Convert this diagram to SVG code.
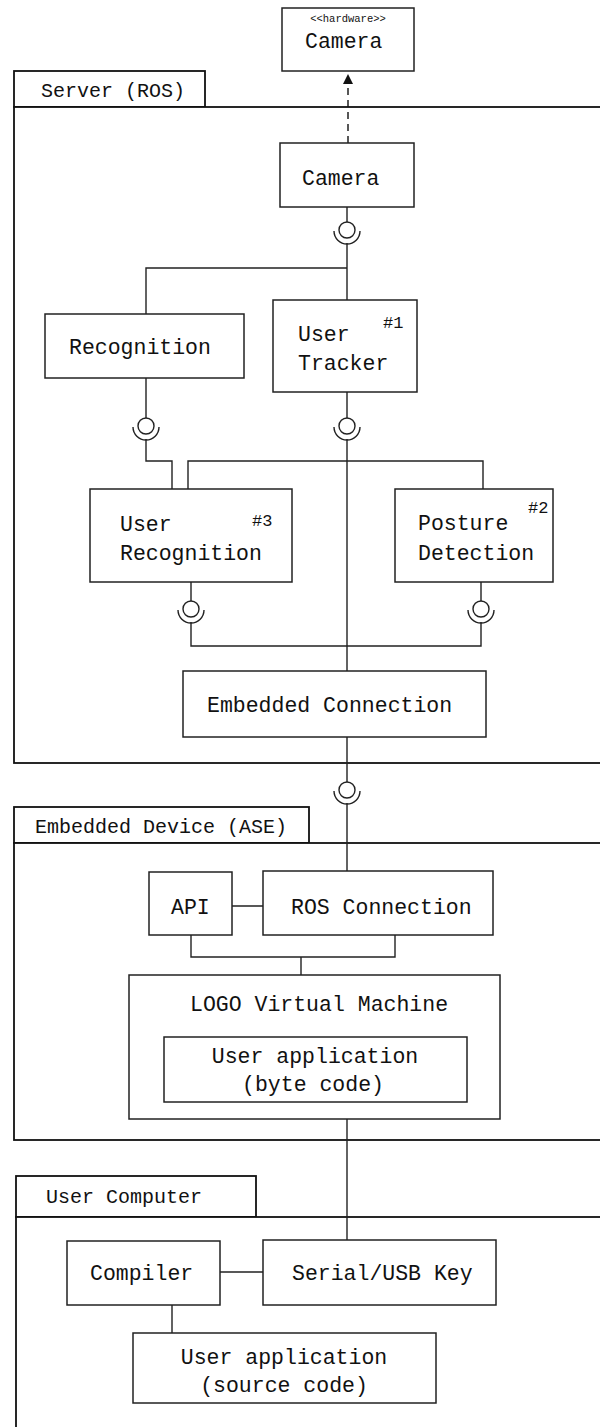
<svg xmlns="http://www.w3.org/2000/svg" xmlns:xlink="http://www.w3.org/1999/xlink" width="600" height="1427" viewBox="0 0 600 1427">
  <style>
    .pkg { fill: #fff; stroke: #111; stroke-width: 1.8; }
    .box { fill: #fff; stroke: #222; stroke-width: 1.5; }
    .wire { fill: none; stroke: #222; stroke-width: 1.4; }
    .dash { fill: none; stroke: #111; stroke-width: 1.4; stroke-dasharray: 7 5; }
    text { font-family: "Liberation Mono", "DejaVu Sans Mono", monospace; fill: #111; }
    .lbl { font-size: 21.5px; }
    .plbl { font-size: 20px; }
    .tag { font-size: 17px; }
    .stereo { font-size: 10.5px; }
  </style>
  <defs>
    <!-- required interface: ball with half-ring socket below -->
    <g id="socket">
      <circle cx="0" cy="0" r="8" fill="#fff" stroke="#222" stroke-width="1.4"/>
      <path d="M -13 1 A 13 13 0 0 0 13 1" fill="none" stroke="#222" stroke-width="1.4"/>
    </g>
    <marker id="arrow" viewBox="0 0 10 10" refX="10" refY="5" markerWidth="10" markerHeight="12" markerUnits="userSpaceOnUse" orient="auto">
      <path d="M0,0 L10,5 L0,10 z" fill="#111"/>
    </marker>
  </defs>

  <!-- packages -->
  <g id="pkg-server">
    <rect class="pkg" x="14" y="71" width="191" height="36"/>
    <rect class="pkg" x="14" y="107" width="600" height="656"/>
    <text class="plbl" x="41" y="97">Server (ROS)</text>
  </g>
  <g id="pkg-embedded">
    <rect class="pkg" x="14" y="807" width="295" height="36"/>
    <rect class="pkg" x="14" y="843" width="600" height="297"/>
    <text class="plbl" x="35" y="833">Embedded Device (ASE)</text>
  </g>
  <g id="pkg-user">
    <rect class="pkg" x="16" y="1176" width="240" height="41"/>
    <rect class="pkg" x="16" y="1217" width="600" height="230"/>
    <text class="plbl" x="46" y="1203">User Computer</text>
  </g>

  <!-- connectors -->
  <g id="connectors">
    <path class="dash" d="M348 143 V74" marker-end="url(#arrow)"/>
    <!-- camera interface -->
    <path class="wire" d="M347 207 V222 M347 243 V300 M347 268 H146 V314"/>
    <use xlink:href="#socket" x="347" y="230"/>
    <!-- recognition interface -->
    <path class="wire" d="M146 378 V418 M146 439 V461 H172 V489"/>
    <use xlink:href="#socket" x="146" y="426"/>
    <!-- tracker interface -->
    <path class="wire" d="M347 392 V418 M347 439 V671 M188 489 V461 H483 V489"/>
    <use xlink:href="#socket" x="347" y="426"/>
    <!-- recognition / posture outputs -->
    <path class="wire" d="M191 582 V601 M191 622 V646 H481 V622 M481 601 V582"/>
    <use xlink:href="#socket" x="191" y="609"/>
    <use xlink:href="#socket" x="481" y="609"/>
    <!-- server to embedded device -->
    <path class="wire" d="M347 737 V782 M347 803 V871"/>
    <use xlink:href="#socket" x="347" y="790"/>
    <!-- embedded device internals -->
    <path class="wire" d="M232 906 H263 M191 935 V957 H395 V935 M301 957 V975"/>
    <!-- embedded device to user computer -->
    <path class="wire" d="M347 1119 V1240"/>
    <path class="wire" d="M220 1272 H263 M172 1305 V1333"/>
  </g>

  <!-- nodes -->
  <g id="hw-camera">
    <rect class="box" x="282" y="8" width="132" height="63"/>
    <text class="stereo" x="348" y="22" text-anchor="middle">&lt;&lt;hardware&gt;&gt;</text>
    <text class="lbl" x="305" y="48">Camera</text>
  </g>
  <g id="camera">
    <rect class="box" x="280" y="143" width="134" height="64"/>
    <text class="lbl" x="302" y="185">Camera</text>
  </g>
  <g id="recognition">
    <rect class="box" x="45" y="314" width="199" height="64"/>
    <text class="lbl" x="69" y="354">Recognition</text>
  </g>
  <g id="user-tracker">
    <rect class="box" x="273" y="300" width="144" height="92"/>
    <text class="lbl" x="298" y="341">User</text>
    <text class="lbl" x="298" y="370">Tracker</text>
    <text class="tag" x="383" y="328">#1</text>
  </g>
  <g id="user-recognition">
    <rect class="box" x="90" y="489" width="202" height="93"/>
    <text class="lbl" x="120" y="531">User</text>
    <text class="lbl" x="120" y="560">Recognition</text>
    <text class="tag" x="252" y="526">#3</text>
  </g>
  <g id="posture-detection">
    <rect class="box" x="395" y="489" width="158" height="93"/>
    <text class="lbl" x="418" y="530">Posture</text>
    <text class="lbl" x="418" y="560">Detection</text>
    <text class="tag" x="528" y="513">#2</text>
  </g>
  <g id="embedded-connection">
    <rect class="box" x="183" y="671" width="303" height="66"/>
    <text class="lbl" x="207" y="712">Embedded Connection</text>
  </g>
  <g id="api">
    <rect class="box" x="149" y="872" width="83" height="63"/>
    <text class="lbl" x="171" y="914">API</text>
  </g>
  <g id="ros-connection">
    <rect class="box" x="263" y="871" width="230" height="64"/>
    <text class="lbl" x="291" y="914">ROS Connection</text>
  </g>
  <g id="logo-vm">
    <rect class="box" x="129" y="975" width="371" height="144"/>
    <text class="lbl" x="190" y="1011">LOGO Virtual Machine</text>
    <rect class="box" x="164" y="1037" width="303" height="65"/>
    <text class="lbl" x="315" y="1063" text-anchor="middle">User application</text>
    <text class="lbl" x="313" y="1091" text-anchor="middle">(byte code)</text>
  </g>
  <g id="compiler">
    <rect class="box" x="67" y="1241" width="153" height="64"/>
    <text class="lbl" x="90" y="1280">Compiler</text>
  </g>
  <g id="serial-usb">
    <rect class="box" x="263" y="1240" width="233" height="65"/>
    <text class="lbl" x="292" y="1280">Serial/USB Key</text>
  </g>
  <g id="source-app">
    <rect class="box" x="133" y="1333" width="303" height="70"/>
    <text class="lbl" x="284" y="1364" text-anchor="middle">User application</text>
    <text class="lbl" x="284" y="1392" text-anchor="middle">(source code)</text>
  </g>
</svg>
